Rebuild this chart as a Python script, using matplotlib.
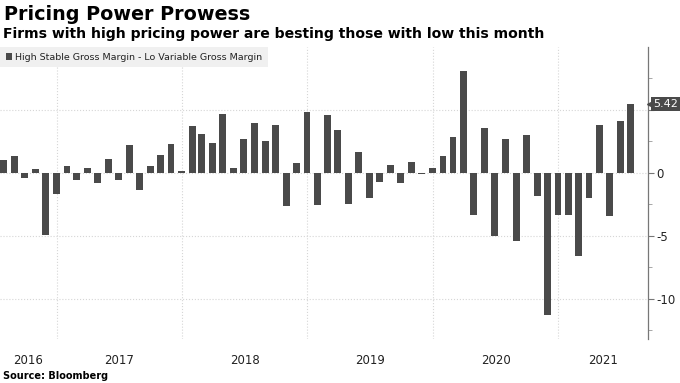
import numpy as np
import pandas as pd
import matplotlib
matplotlib.use("Agg")
import matplotlib.pyplot as plt
import matplotlib.transforms as mtransforms
from matplotlib.ticker import MultipleLocator

plt.rcParams["font.family"] = ["DejaVu Sans"]
plt.rcParams["axes.unicode_minus"] = False

# monthly spread, Jul 2016 .. Jul 2021
months = pd.date_range("2016-07-31", periods=61, freq="ME")
spread = [1.0, 1.34, -0.47, 0.32, -4.95, -1.74, 0.53, -0.58, 0.40, -0.79,
          1.08, -0.63, 2.19, -1.42, 0.53, 1.42, 2.24, 0.1, 3.72, 3.08,
          2.32, 4.61, 0.40, 2.63, 3.90, 2.53, 3.74, -2.63, 0.79, 4.77,
          -2.55, 4.56, 3.37, -2.48, 1.66, -1.98, -0.76, 0.58, -0.82, 0.82,
          -0.1, 0.37, 1.34, 2.85, 8.06, -3.37, 3.53, -5.03, 2.63, -5.45,
          3.0, -1.90, -11.3, -3.37, -3.37, -6.64, -2.03, 3.74, -3.42, 4.06,
          5.42]
series_name = "High Stable Gross Margin - Lo Variable Gross Margin"
years = [2016, 2017, 2018, 2019, 2020, 2021]
y_ticks = [-10, -5, 0, 5]
y_ticklabels = ["-10", "-5", "0", ""]

bar_color = "#4a4a4a"
grid_color = "#d6d6d6"

fig = plt.figure(figsize=(6.8, 3.83), dpi=100)
ax = fig.add_axes([0.0, 0.115, 0.953, 0.762])

ax.bar(months, spread, width=20, color=bar_color, label=series_name, zorder=3)

x0 = months[0] - pd.Timedelta(days=11)
x1 = months[-1] + pd.Timedelta(days=50)
ax.set_xlim(x0, x1)
ax.set_ylim(-13.2, 9.95)

# year boundaries as gridlines, year labels centred in visible part
jan1 = [pd.Timestamp(f"{y}-01-01") for y in years[1:]]
mids = []
for y in years:
    a = max(pd.Timestamp(f"{y}-01-01"), x0)
    b = min(pd.Timestamp(f"{y + 1}-01-01"), x1)
    mids.append(a + (b - a) / 2)
ax.set_xticks(mids)
ax.set_xticklabels([str(y) for y in years])
ax.set_xticks(jan1, minor=True)
ax.tick_params(axis="x", which="both", length=0, pad=11, labelsize=8.5,
               labelcolor="#222222")
ax.grid(axis="x", which="minor", color=grid_color, linestyle=":", linewidth=0.8)

ax.yaxis.tick_right()
ax.set_yticks(y_ticks)
ax.set_yticklabels(y_ticklabels)
ax.yaxis.set_minor_locator(MultipleLocator(2.5))
ax.tick_params(axis="y", which="major", length=4, width=0.8, color="#777777",
               labelsize=8.5, labelcolor="#222222", pad=2)
ax.tick_params(axis="y", which="minor", length=3, width=0.6, color="#999999")
ax.grid(axis="y", which="major", color=grid_color, linestyle=":", linewidth=0.8)
ax.set_axisbelow(True)

for s in ["top", "left", "bottom"]:
    ax.spines[s].set_visible(False)
ax.spines["right"].set_color("#777777")
ax.spines["right"].set_linewidth(0.9)

leg = ax.legend(loc="upper left", bbox_to_anchor=(0.0, 1.0), borderaxespad=0,
                frameon=True, fancybox=False, facecolor="#f0f0f0",
                edgecolor="none", framealpha=1, fontsize=6.8,
                handlelength=0.7, handleheight=0.7, handletextpad=0.3,
                borderpad=0.6)
for t in leg.get_texts():
    t.set_color("#222222")

# last value tag
trans = mtransforms.blended_transform_factory(ax.transAxes, ax.transData)
last = spread[-1]
ax.plot([1.003], [last], marker="<", markersize=5, color=bar_color,
        transform=trans, clip_on=False, zorder=5)
ax.text(1.008, last, f"{last:.2f}", transform=trans, ha="left", va="center",
        fontsize=8, color="white", zorder=6,
        bbox=dict(boxstyle="square,pad=0.2", facecolor=bar_color,
                  edgecolor="none"))

fig.text(0.006, 0.948, "Pricing Power Prowess", fontsize=13.8, fontweight="bold",
         va="baseline", ha="left")
fig.text(0.004, 0.902,
         "Firms with high pricing power are besting those with low this month",
         fontsize=10.1, fontweight="bold", va="baseline", ha="left")
fig.text(0.004, 0.01, "Source: Bloomberg", fontsize=7, fontweight="bold",
         va="baseline", ha="left")

fig.savefig("out.png", dpi=100)
